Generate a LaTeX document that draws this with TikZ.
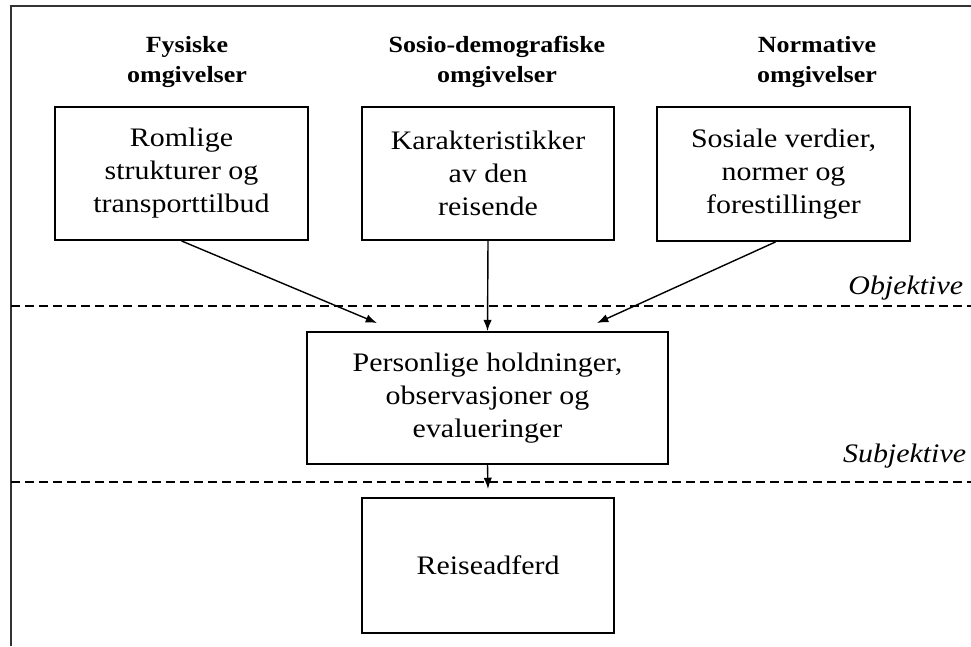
\documentclass[tikz,border=0pt]{standalone}
\usepackage{fontspec}
\setmainfont{Liberation Serif}[FakeStretch=1.12]
\usetikzlibrary{arrows.meta}

\begin{document}
\begin{tikzpicture}[x=0.025cm,y=-0.025cm,
        box/.style={draw,line width=1.3pt,fill=white,align=center,inner sep=2pt,
            font=\fontsize{19}{23.5}\selectfont},
        head/.style={align=center,font=\bfseries\fontsize{16.5}{21}\selectfont},
        level/.style={anchor=east,font=\itshape\fontsize{19}{22}\selectfont},
        sep/.style={dash pattern=on 6.4pt off 3.6pt,line width=1.1pt},
        arr/.style={-{Latex[length=8pt,width=6pt]},line width=1pt}]
        \useasboundingbox (0,0) rectangle (971,646);

        \draw[line width=1.5pt,black!80] (11,646) -- (11,6) -- (971,6);

        \node[head] (hfys)  at (187,62) {Fysiske\\omgivelser};
        \node[head] (hsos)  at (497,62) {Sosio-demografiske\\omgivelser};
        \node[head] (hnorm) at (817,62) {Normative\\omgivelser};

        \node[box,minimum width=6.325cm,minimum height=3.325cm] (fys)  at (181.5,173.5) {Romlige\\strukturer og\\transporttilbud};
        \node[box,minimum width=6.3cm,minimum height=3.325cm]   (sos)  at (488,173.5)   {Karakteristikker\\av den\\reisende};
        \node[box,minimum width=6.325cm,minimum height=3.35cm]  (norm) at (783.5,174)   {Sosiale verdier,\\normer og\\forestillinger};

        \draw[sep] (11,306) -- (971,306);
        \draw[sep] (11,482) -- (971,482);
        \node[level] (obj)  at (968,288) {Objektive};
        \node[level] (subj) at (971,456) {Subjektive};

        \node[box,minimum width=9.025cm,minimum height=3.3cm]  (pers)  at (487.5,398)  {Personlige holdninger,\\observasjoner og\\evalueringer};
        \node[box,minimum width=6.3cm,minimum height=3.375cm]  (reise) at (488,565.5)  {Reiseadferd};

        \coordinate (t1) at (377,323);
        \coordinate (t3) at (597,323);
        \coordinate (t4) at (488,489);

        \draw[arr] (fys.south) -- (t1);
        \draw[arr] (sos.south) -- (pers.north);
        \draw[arr] ([xshift=-0.2cm]norm.south) -- (t3);
        \draw[arr] (pers.south) -- (t4);
    \end{tikzpicture}
\end{document}
